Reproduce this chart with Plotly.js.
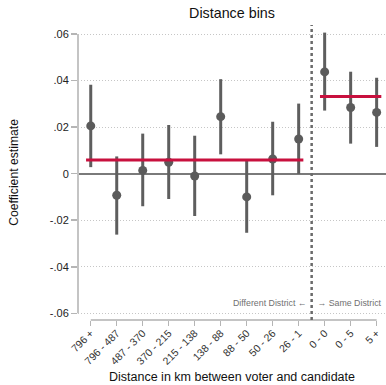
<!DOCTYPE html>
<html>
<head>
<meta charset="utf-8">
<script src="https://cdn.plot.ly/plotly-3.0.1.min.js"></script>
<style>html,body{margin:0;padding:0;background:#fff}#chart{width:386px;height:385px}</style>
</head>
<body>
<div id="chart"></div>
<script>
// Data
var categories = ["796 +", "796 - 487", "487 - 370", "370 - 215", "215 - 138", "138 - 88", "88 - 50", "50 - 26", "26 - 1", "0 - 0", "0 - 5", "5 +"];
var estimates = [0.0205, -0.0093, 0.0014, 0.0049, -0.0010, 0.0245, -0.0100, 0.0063, 0.0149, 0.0437, 0.0284, 0.0263];
var ciUpper   = [0.0382, 0.0074, 0.0172, 0.0209, 0.0163, 0.0406, 0.0057, 0.0223, 0.0301, 0.0606, 0.0438, 0.0412];
var ciLower   = [0.0028, -0.0262, -0.0140, -0.0109, -0.0182, 0.0083, -0.0254, -0.0093, -0.0001, 0.0271, 0.0129, 0.0115];
var differentDistrict = [0, 1, 2, 3, 4, 5, 6, 7, 8];
var sameDistrict = [9, 10, 11];
var meanDifferent = 0.0059;
var meanSame = 0.0332;
var yTickVals = [0.06, 0.04, 0.02, 0, -0.02, -0.04, -0.06];
var yTickText = [".06", ".04", ".02", "0", "-.02", "-.04", "-.06"];

var idx = categories.map(function (_, i) { return i; });
var pad = 0.18;
var font = "Liberation Sans, Arial, sans-serif";

var traces = [
  {
    x: idx, y: estimates, type: "scatter", mode: "markers",
    marker: { color: "#5b5b5b", size: 9 },
    error_y: {
      type: "data", symmetric: false,
      array: ciUpper.map(function (u, i) { return u - estimates[i]; }),
      arrayminus: ciLower.map(function (l, i) { return estimates[i] - l; }),
      color: "#5e5e5e", thickness: 3, width: 0
    },
    hoverinfo: "skip", showlegend: false
  },
  {
    x: [differentDistrict[0] - pad, differentDistrict[differentDistrict.length - 1] + pad],
    y: [meanDifferent, meanDifferent], type: "scatter", mode: "lines",
    line: { color: "#c8103e", width: 3 }, hoverinfo: "skip", showlegend: false
  },
  {
    x: [sameDistrict[0] - pad, sameDistrict[sameDistrict.length - 1] + pad],
    y: [meanSame, meanSame], type: "scatter", mode: "lines",
    line: { color: "#c8103e", width: 3 }, hoverinfo: "skip", showlegend: false
  }
];

var split = (differentDistrict[differentDistrict.length - 1] + sameDistrict[0]) / 2;

var layout = {
  width: 386, height: 385,
  margin: { l: 78, r: 0, t: 25, b: 65 },
  paper_bgcolor: "#fff", plot_bgcolor: "#fff",
  font: { family: font, color: "#222" },
  title: { text: "Distance bins", font: { size: 14.3, color: "#111" }, x: 0.5, xanchor: "center", xref: "paper", y: 0.967, yref: "container", yanchor: "middle" },
  xaxis: {
    range: [-0.49, 11.36], tickvals: idx, ticktext: categories, tickangle: -45,
    ticks: "outside", ticklen: 5, tickcolor: "#b5b5b5", tickwidth: 1.5,
    ticklabelstandoff: -3,
    tickfont: { size: 10.5, color: "#333" },
    showgrid: false, zeroline: false, showline: false, fixedrange: true
  },
  yaxis: {
    range: [-0.06288, 0.06387], tickvals: yTickVals, ticktext: yTickText,
    ticks: "outside", ticklen: 6, tickcolor: "#b5b5b5", tickwidth: 1.5,
    tickfont: { size: 11, color: "#222" },
    showgrid: true, gridcolor: "#c6c6c6", griddash: "1px,2px", gridwidth: 1,
    zeroline: true, zerolinecolor: "#7a7a7a", zerolinewidth: 2,
    showline: false, fixedrange: true
  },
  shapes: [
    { type: "line", xref: "paper", yref: "y", x0: 0, x1: 0, y0: -0.06, y1: 0.06, line: { color: "#c4c4c4", width: 2 } },
    { type: "line", xref: "x", yref: "paper", x0: idx[0], x1: idx[idx.length - 1], y0: 0, y1: 0, line: { color: "#c4c4c4", width: 2 } },
    { type: "line", xref: "x", yref: "paper", x0: split, x1: split, y0: 0, y1: 1, line: { color: "#6a6a6a", width: 2.5, dash: "dot" } }
  ],
  annotations: [
    { xref: "x", yref: "y", x: split, y: -0.0556, text: "Different District \u2190 ", showarrow: false, xanchor: "right", yanchor: "middle", xshift: -1, font: { size: 8.8, color: "#707070" } },
    { xref: "x", yref: "y", x: split, y: -0.0556, text: " \u2192 Same District", showarrow: false, xanchor: "left", yanchor: "middle", xshift: 1, font: { size: 8.8, color: "#707070" } },
    { xref: "paper", yref: "paper", x: 0.5, y: -0.193, text: "Distance in km between voter and candidate", showarrow: false, xanchor: "center", yanchor: "middle", font: { size: 12.5, color: "#111" } },
    { xref: "paper", yref: "paper", x: -0.21, y: 0.5, text: "Coefficient estimate", textangle: -90, showarrow: false, xanchor: "center", yanchor: "middle", font: { size: 12.2, color: "#111" } }
  ]
};

Plotly.newPlot("chart", traces, layout, { displayModeBar: false, staticPlot: true });
</script>
</body>
</html>
